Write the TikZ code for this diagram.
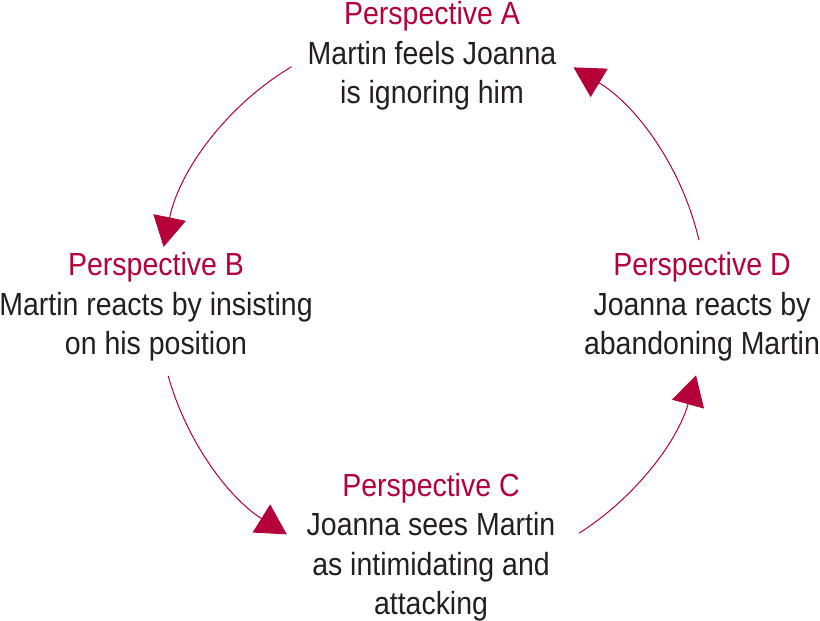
\documentclass[tikz,border=0pt]{standalone}
\usepackage{fontspec}
\setmainfont{Liberation Sans}[FakeStretch=0.89]
\usetikzlibrary{arrows.meta}
\definecolor{perspred}{RGB}{181,0,58}
\definecolor{textgray}{RGB}{35,31,32}
\begin{document}
\begin{tikzpicture}[x=1pt,y=1pt,line join=round,line cap=round,
	>={Triangle[length=30pt,width=33pt]},
	persp/.style={align=center,inner sep=0pt,text=textgray,font=\fontsize{32}{39.5}\selectfont},
	cyc/.style={draw=perspred,line width=1pt,->}]
	\useasboundingbox (0,0) rectangle (820,-621);
	\def\r{274}
	% Tâm vòng tròn
	\coordinate (O) at (432,-302);
	% Các góc nhìn
	\node[persp] (persA) at (432,-56) {{\color{perspred}Perspective A}\\Martin feels Joanna\\is ignoring him};
	\node[persp] (persB) at (156,-307) {{\color{perspred}Perspective B}\\Martin reacts by insisting\\on his position};
	\node[persp] (persC) at (431,-547) {{\color{perspred}Perspective C}\\Joanna sees Martin\\as intimidating and\\attacking};
	\node[persp] (persD) at (702,-307) {{\color{perspred}Perspective D}\\Joanna reacts by\\abandoning Martin};
	% Điểm đầu các cung
	\coordinate (ab) at ([shift={(120.9:\r)}]O);
	\coordinate (bc) at ([shift={(195.7:\r)}]O);
	\coordinate (cd) at ([shift={(302.5:\r)}]O);
	\coordinate (da) at ([shift={(13.1:\r)}]O);
	% Các cung mũi tên
	\draw[cyc] (ab) arc[start angle=120.9,end angle=168.4,radius=\r];
	\draw[cyc] (bc) arc[start angle=195.7,end angle=238,radius=\r];
	\draw[cyc] (cd) arc[start angle=302.5,end angle=344.5,radius=\r];
	\draw[cyc] (da) arc[start angle=13.1,end angle=58.9,radius=\r];
\end{tikzpicture}
\end{document}
